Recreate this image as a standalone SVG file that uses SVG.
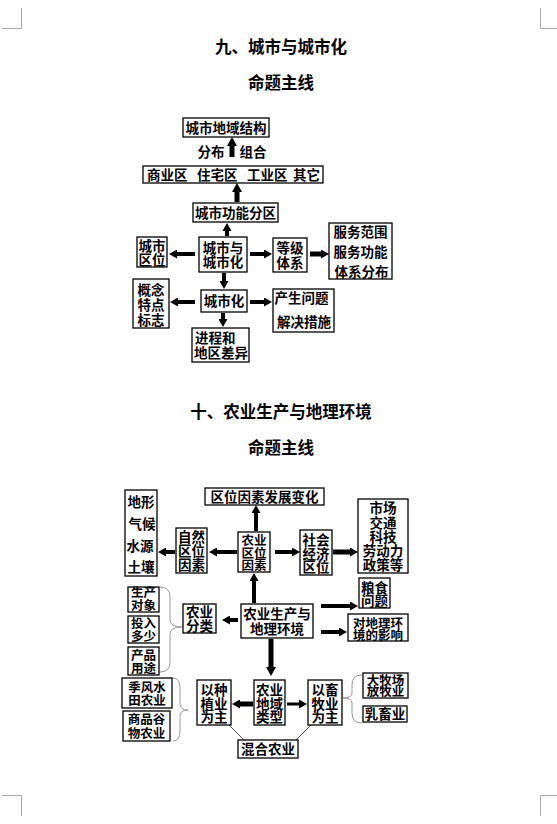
<svg xmlns="http://www.w3.org/2000/svg" width="557" height="824" viewBox="0 0 557 824">
<style>
.b{fill:#fff;stroke:#000;stroke-width:1.3}
.t{font-family:"Noto Sans CJK SC","Noto Sans",sans-serif;font-size:13.5px;font-weight:700;text-anchor:middle;fill:#000}
.m{font-size:12.5px}
.s{text-anchor:start}
.h{font-family:"Noto Sans CJK SC",sans-serif;font-size:16.5px;font-weight:700;text-anchor:middle;fill:#000}
.a{stroke:#000;stroke-width:4;fill:none;marker-end:url(#ah)}
.br{stroke:#999;stroke-width:1;fill:none}
.cm{stroke:#aaa;stroke-width:1;fill:none}
</style>
<defs>
<marker id="ah" markerUnits="userSpaceOnUse" markerWidth="8" markerHeight="9" refX="0" refY="4.5" orient="auto"><path d="M0,0 L8,4.5 L0,9 z" fill="#000"/></marker>
<marker id="ah2" markerUnits="userSpaceOnUse" markerWidth="9" markerHeight="10" refX="0" refY="5" orient="auto"><path d="M0,0 L9,5 L0,10 z" fill="#000"/></marker>
</defs>
<rect width="557" height="824" fill="#fff"/>
<g id="corners">
<path class="cm" d="M21.5,8 V28.5 H2"/>
<path class="cm" d="M540.5,8 V28.5 H557"/>
<path class="cm" d="M2,795.5 H21.5 V816"/>
<path class="cm" d="M557,795.5 H540.5 V816"/>
</g>
<g id="titles">
<text class="h" x="281" y="53">九、城市与城市化</text>
<text class="h" x="281" y="89">命题主线</text>
<text class="h" x="281" y="418">十、农业生产与地理环境</text>
<text class="h" x="281" y="454">命题主线</text>
</g>
<g id="connectors">
<line class="a" x1="232" y1="157" x2="232" y2="146" style="stroke-width:5;marker-end:url(#ah2)"/>
<line class="a" x1="237" y1="202" x2="237" y2="192" style="stroke-width:5;marker-end:url(#ah2)"/>
<line class="a" x1="227" y1="236" x2="227" y2="231"/>
<line class="a" x1="195" y1="254" x2="177" y2="254"/>
<line class="a" x1="250" y1="254" x2="264" y2="254"/>
<line class="a" x1="310" y1="254" x2="321" y2="254" style="stroke-width:5"/>
<line class="a" x1="224" y1="273" x2="224" y2="281"/>
<line class="a" x1="195" y1="302" x2="178" y2="302"/>
<line class="a" x1="250" y1="302" x2="264" y2="302"/>
<line class="a" x1="223" y1="313" x2="223" y2="319"/>
<line class="a" x1="256" y1="531" x2="256" y2="513"/>
<line class="a" x1="237" y1="552" x2="217" y2="552"/>
<line class="a" x1="175" y1="552" x2="166" y2="552"/>
<line class="a" x1="275" y1="552" x2="292" y2="552"/>
<line class="a" x1="333" y1="552" x2="350" y2="552" style="stroke-width:5"/>
<line class="a" x1="254" y1="603" x2="254" y2="581"/>
<line class="a" x1="238" y1="620" x2="230" y2="620"/>
<line class="a" x1="321" y1="606" x2="350" y2="606"/>
<line class="a" x1="321" y1="632" x2="339" y2="632"/>
<line class="a" x1="271" y1="639" x2="271" y2="667" style="stroke-width:5;marker-end:url(#ah2)"/>
<line class="a" x1="253" y1="704" x2="240" y2="704" style="stroke-width:5"/>
<line class="a" x1="287" y1="704" x2="299" y2="704" style="stroke-width:3"/>
<line x1="229" y1="725" x2="244" y2="740" stroke="#555" stroke-width="1"/>
<line x1="311" y1="725" x2="296" y2="740" stroke="#555" stroke-width="1"/>
<path class="br" d="M160,587 Q170,587 170,597 L170,620 Q170,627 182,627 Q170,627 170,634 L170,662 Q170,672 160,672"/>
<path class="br" d="M173,678 Q180,678 180,688 L180,704 Q180,710 188,710 Q180,710 180,716 L180,731 Q180,741 173,741"/>
<path class="br" d="M362,675 Q352,675 352,685 L352,693 Q352,698 343,698 Q352,698 352,703 L352,713 Q352,723 362,723"/>
</g>
<g id="n1"><rect class="b" x="183" y="118" width="86" height="19"/><text class="t" x="226" y="132.5">城市地域结构</text></g>
<g id="lbl-fb"><text class="t" x="211" y="157">分布</text><text class="t" x="253" y="157">组合</text></g>
<g id="n2"><rect class="b" x="143" y="166" width="180" height="17"/>
<text class="t s" y="179.5"><tspan x="147">商业区</tspan><tspan x="197">住宅区</tspan><tspan x="247">工业区</tspan><tspan x="293">其它</tspan></text></g>
<g id="n3"><rect class="b" x="193" y="203" width="85" height="19"/><text class="t" x="235.5" y="217.5">城市功能分区</text></g>
<g id="n4"><rect class="b" x="199" y="237" width="48" height="35"/><text class="t"><tspan x="223" y="253">城市与</tspan><tspan x="223" y="267">城市化</tspan></text></g>
<g id="n5"><rect class="b" x="137" y="237" width="30" height="30"/><text class="t"><tspan x="152" y="251">城市</tspan><tspan x="152" y="265">区位</tspan></text></g>
<g id="n6"><rect class="b" x="273" y="238" width="34" height="34"/><text class="t"><tspan x="290" y="253">等级</tspan><tspan x="290" y="268">体系</tspan></text></g>
<g id="n7"><rect class="b" x="329" y="223" width="63" height="56"/><text class="t"><tspan x="360.5" y="237">服务范围</tspan><tspan x="360.5" y="257">服务功能</tspan><tspan x="361.5" y="277">体系分布</tspan></text></g>
<g id="n8"><rect class="b" x="201" y="290" width="46" height="22"/><text class="t" x="224" y="306">城市化</text></g>
<g id="n9"><rect class="b" x="133" y="279" width="36" height="49"/><text class="t"><tspan x="151" y="295">概念</tspan><tspan x="151" y="310">特点</tspan><tspan x="151" y="325">标志</tspan></text></g>
<g id="n10"><rect class="b" x="273" y="289" width="61" height="43"/><text class="t s"><tspan x="274.5" y="303">产生问题</tspan><tspan x="277" y="327">解决措施</tspan></text></g>
<g id="n11"><rect class="b" x="192" y="328" width="57" height="34"/><text class="t s"><tspan x="195" y="343">进程和</tspan><tspan x="194" y="358">地区差异</tspan></text></g>
<g id="b1"><rect class="b" x="205" y="488" width="119" height="17"/><text class="t" x="264.5" y="501.5">区位因素发展变化</text></g>
<g id="b2"><rect class="b" x="125" y="490" width="32" height="86"/><text class="t"><tspan x="141" y="507">地形</tspan><tspan x="142" y="529">气候</tspan><tspan x="140" y="551">水源</tspan><tspan x="141" y="572">土壤</tspan></text></g>
<g id="b3"><rect class="b" x="176" y="528" width="31" height="45"/><text class="t"><tspan x="191.5" y="542">自然</tspan><tspan x="191.5" y="556">区位</tspan><tspan x="191.5" y="570">因素</tspan></text></g>
<g id="b4"><rect class="b" x="238" y="532" width="32" height="40"/><text class="t m"><tspan x="254" y="545">农业</tspan><tspan x="254" y="557.5">区位</tspan><tspan x="254" y="570">因素</tspan></text></g>
<g id="b5"><rect class="b" x="300" y="530" width="32" height="45"/><text class="t"><tspan x="316" y="545">社会</tspan><tspan x="316" y="559">经济</tspan><tspan x="316" y="572">区位</tspan></text></g>
<g id="b6"><rect class="b" x="358" y="499" width="50" height="74"/><text class="t"><tspan x="383" y="513">市场</tspan><tspan x="383" y="528">交通</tspan><tspan x="383" y="542">科技</tspan><tspan x="383" y="556">劳动力</tspan><tspan x="383" y="570">政策等</tspan></text></g>
<g id="b7"><rect class="b" x="128" y="587" width="31" height="25"/><text class="t m"><tspan x="143.5" y="597">生产</tspan><tspan x="143.5" y="610">对象</tspan></text></g>
<g id="b8"><rect class="b" x="128" y="616" width="31" height="27"/><text class="t m"><tspan x="143.5" y="628">投入</tspan><tspan x="143.5" y="641">多少</tspan></text></g>
<g id="b9"><rect class="b" x="128" y="647" width="31" height="28"/><text class="t m"><tspan x="143.5" y="660">产品</tspan><tspan x="143.5" y="673">用途</tspan></text></g>
<g id="b10"><rect class="b" x="183" y="604" width="33" height="29"/><text class="t"><tspan x="199.5" y="617">农业</tspan><tspan x="199.5" y="631">分类</tspan></text></g>
<g id="b11"><rect class="b" x="241" y="604" width="72" height="34"/><text class="t"><tspan x="277" y="619">农业生产与</tspan><tspan x="277" y="634">地理环境</tspan></text></g>
<g id="b12"><rect class="b" x="359" y="578" width="31" height="30"/><text class="t"><tspan x="374.5" y="593">粮食</tspan><tspan x="374.5" y="606">问题</tspan></text></g>
<g id="b13"><rect class="b" x="348" y="614" width="60" height="27"/><text class="t m"><tspan x="378" y="627.5">对地理环</tspan><tspan x="378" y="640">境的影响</tspan></text></g>
<g id="b14"><rect class="b" x="122" y="678" width="50" height="30"/><text class="t m"><tspan x="147" y="692">季风水</tspan><tspan x="147" y="705">田农业</tspan></text></g>
<g id="b15"><rect class="b" x="123" y="711" width="47" height="30"/><text class="t m"><tspan x="146.5" y="724">商品谷</tspan><tspan x="146.5" y="738">物农业</tspan></text></g>
<g id="b16"><rect class="b" x="197" y="680" width="34" height="45"/><text class="t"><tspan x="214" y="695">以种</tspan><tspan x="214" y="709">植业</tspan><tspan x="214" y="722">为主</tspan></text></g>
<g id="b17"><rect class="b" x="254" y="680" width="31" height="45"/><text class="t"><tspan x="269.5" y="695">农业</tspan><tspan x="269.5" y="709">地域</tspan><tspan x="269.5" y="722">类型</tspan></text></g>
<g id="b18"><rect class="b" x="308" y="680" width="34" height="45"/><text class="t"><tspan x="325" y="695">以畜</tspan><tspan x="325" y="709">牧业</tspan><tspan x="325" y="722">为主</tspan></text></g>
<g id="b19"><rect class="b" x="363" y="673" width="45" height="25"/><text class="t m"><tspan x="385.5" y="684.5">大牧场</tspan><tspan x="385.5" y="696">放牧业</tspan></text></g>
<g id="b20"><rect class="b" x="363" y="706" width="44" height="16"/><text class="t" x="385" y="719">乳畜业</text></g>
<g id="b21"><rect class="b" x="238" y="740" width="60" height="18"/><text class="t" x="268" y="754">混合农业</text></g>
</svg>
